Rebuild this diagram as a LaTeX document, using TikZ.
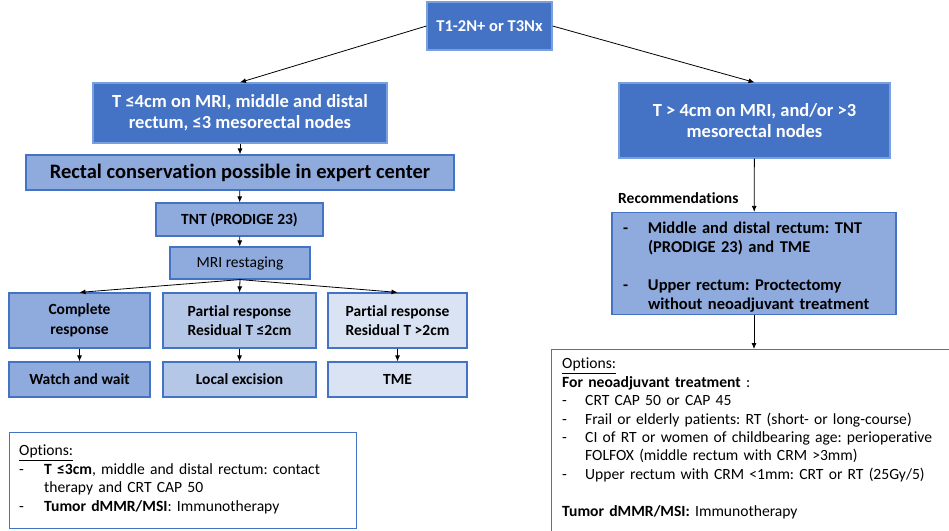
\documentclass[tikz,border=0pt]{standalone}
\usepackage{fontspec}
\setmainfont{Carlito}[Ligatures=NoCommon]
\usetikzlibrary{arrows.meta}
\frenchspacing
\hyphenpenalty=10000

\definecolor{darkblue}{RGB}{68,114,196}
\definecolor{edgeblue}{RGB}{120,160,222}
\definecolor{midblue}{RGB}{143,170,220}
\definecolor{lightblue}{RGB}{180,199,231}
\definecolor{paleblue}{RGB}{218,227,243}

\tikzstyle{head} = [draw=edgeblue, line width=1.2pt, fill=darkblue, text=white, font=\bfseries\fontsize{18.5}{21}\selectfont, align=center, inner sep=0pt]
\tikzstyle{stage} = [draw=darkblue, line width=1.2pt, fill=midblue, font=\bfseries\fontsize{15.5}{19.5}\selectfont, align=center, inner sep=0pt]
\tikzstyle{note} = [draw=darkblue, line width=1.2pt, fill=white, inner sep=0pt]
\tikzstyle{notetext} = [font=\fontsize{15.6}{18.4}\selectfont, align=left, inner sep=0pt]
\tikzstyle{arr} = [-{Latex[length=6pt,width=5pt]}, line width=0.8pt]

\newcommand{\ditem}[2][24pt]{\par\noindent\hangindent=#1\hangafter=1\makebox[#1][l]{-}#2\par}

\begin{document}
\begin{tikzpicture}[x=1pt, y=-1pt]
\useasboundingbox (0,0) rectangle (949,530);

\node[head, minimum width=125, minimum height=48, font=\bfseries\fontsize{16.5}{20}\selectfont] (top) at (489.5,26) {T1-2N+ or T3Nx};
\node[head, minimum width=294, minimum height=60] (small) at (240,113) {T ≤4cm on MRI, middle and distal\\rectum, ≤3 mesorectal nodes};
\node[head, minimum width=271, minimum height=75] (large) at (754.5,120.5) {T > 4cm on MRI, and/or >3\\mesorectal nodes};

\node[stage, minimum width=428, minimum height=35, font=\bfseries\fontsize{20.5}{22}\selectfont] (conserv) at (240,172.5) {Rectal conservation possible in expert center};
\node[stage, minimum width=167, minimum height=33] (tnt) at (239.5,219.5) {TNT (PRODIGE 23)};
\node[stage, minimum width=140, minimum height=32, font=\fontsize{15.5}{18}\selectfont] (mri) at (240,263) {MRI restaging};

\node[stage, minimum width=141, minimum height=55] (complete) at (79.5,320.5) {Complete\\response};
\node[stage, fill=lightblue, minimum width=153, minimum height=55] (partlow) at (239.5,320.5) {Partial response\\Residual T ≤2cm};
\node[stage, fill=paleblue, minimum width=139, minimum height=55] (parthigh) at (397.5,320.5) {Partial response\\Residual T >2cm};

\node[stage, minimum width=141, minimum height=35] (watch) at (79.5,379.5) {Watch and wait};
\node[stage, fill=lightblue, minimum width=153, minimum height=35] (excision) at (239.5,379.5) {Local excision};
\node[stage, fill=paleblue, minimum width=139, minimum height=35] (tme) at (397.5,379.5) {TME};

\node[note, minimum width=347, minimum height=96, anchor=north west] (optleft) at (9,432) {};
\node[notetext, text width=335, anchor=north west] (optlefttxt) at (19,445) {%
\underline{Options:}
\ditem[25pt]{\textbf{T ≤3cm}, middle and distal rectum: contact\newline therapy and CRT CAP 50}
\ditem[25pt]{\textbf{Tumor dMMR/MSI}: Immunotherapy}};

\node[font=\bfseries\fontsize{15.5}{18}\selectfont, anchor=base west, inner sep=0pt] (reclabel) at (618,203) {Recommendations};
\node[stage, minimum width=284, minimum height=102, text width=262, align=left, font=\bfseries\fontsize{16.5}{19}\selectfont] (rec) at (754,263.5) {%
\ditem[25pt]{Middle and distal rectum: TNT\newline (PRODIGE 23) and TME}
\vspace{\baselineskip}
\ditem[25pt]{Upper rectum: Proctectomy\newline without neoadjuvant treatment}};

\node[note, minimum width=402, minimum height=190, anchor=north west] (optright) at (551,349) {};
\node[notetext, text width=385, anchor=north west] (optrighttxt) at (562,358) {%
\underline{Options:}\par
\textbf{For neoadjuvant treatment} :
\ditem[23pt]{CRT CAP 50 or CAP 45}
\ditem[23pt]{Frail or elderly patients: RT (short- or long-course)}
\ditem[23pt]{CI of RT or women of childbearing age: perioperative\newline FOLFOX (middle rectum with CRM >3mm)}
\ditem[23pt]{Upper rectum with CRM <1mm: CRT or RT (25Gy/5)}
\vspace{\baselineskip}
\textbf{Tumor dMMR/MSI:} Immunotherapy};

\draw[arr] (top.west) -- (small.north);
\draw[arr] (top.east) -- (large.north);
\draw[arr] (small) -- (conserv);
\draw[arr] (conserv) -- (tnt);
\draw[arr] (tnt) -- (mri);
\draw[arr] (mri.south) -- (complete.north);
\draw[arr] (mri.south) -- (partlow.north);
\draw[arr] (mri.south) -- (parthigh.north);
\draw[arr] (complete) -- (watch);
\draw[arr] (partlow) -- (excision);
\draw[arr] (parthigh) -- (tme);
\draw[arr] (large) -- (rec);
\draw[arr] (rec) -- (optright.north -| rec.south);
\end{tikzpicture}
\end{document}
